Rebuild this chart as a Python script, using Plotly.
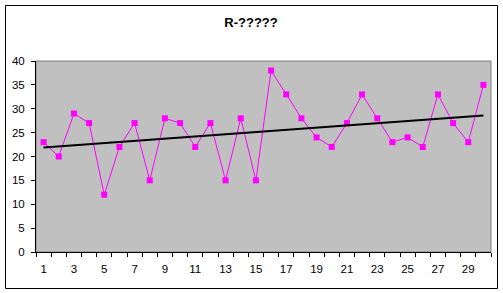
import numpy as np
import plotly.graph_objects as go

categories = list(range(1, 31))
values = [23, 20, 29, 27, 12, 22, 27, 15, 28, 27,
          22, 27, 15, 28, 15, 38, 33, 28, 24, 22,
          27, 33, 28, 23, 24, 22, 33, 27, 23, 35]
x_ticklabels = [str(i) for i in range(1, 31, 2)]
y_ticks = [0, 5, 10, 15, 20, 25, 30, 35, 40]
title_text = "R-?????"

W, H = 503, 293
L, R, T, B = 36, 491, 61, 252

slope, intercept = np.polyfit(categories, values, 1)
trend = [slope * c + intercept for c in categories]

fig = go.Figure()
fig.add_trace(go.Scatter(
    x=categories, y=values, mode="lines+markers",
    line=dict(color="#FF00FF", width=1),
    marker=dict(symbol="square", size=6, color="#FF00FF"),
    showlegend=False, hoverinfo="skip"))
fig.add_trace(go.Scatter(
    x=categories, y=trend, mode="lines",
    line=dict(color="#000000", width=2),
    showlegend=False, hoverinfo="skip"))

pw, ph = R - L, B - T
def px(xp):
    return (xp - L) / pw
def py(yp):
    return (B - yp) / ph

shapes = [
    dict(type="rect", xref="paper", yref="paper",
         x0=px(5.5), x1=px(497.5), y0=py(288.5), y1=py(5.5),
         line=dict(color="#000000", width=1), layer="below"),
    dict(type="rect", xref="paper", yref="paper",
         x0=0, x1=1, y0=0, y1=1,
         line=dict(color="#808080", width=1), layer="below"),
]

font = dict(family="Liberation Sans, Arial, sans-serif", size=11.5, color="#000000")

fig.update_layout(
    width=W, height=H,
    margin=dict(l=L, r=W - R, t=T, b=H - B),
    paper_bgcolor="#FFFFFF", plot_bgcolor="#C0C0C0",
    font=font,
    title=dict(text="<b>" + title_text + "</b>", x=px(251), xref="paper",
               xanchor="center", y=1 - 22 / H, yref="container", yanchor="middle",
               font=dict(family="Liberation Sans, Arial, sans-serif", size=13, color="#000000")),
    shapes=shapes,
    xaxis=dict(range=[0.5, 30.5], showgrid=False, zeroline=False,
               showline=True, linecolor="#000000", linewidth=1,
               tickmode="array", tickvals=list(range(1, 31, 2)), ticktext=x_ticklabels,
               ticks="outside", ticklen=6, tickcolor="rgba(0,0,0,0)",
               minor=dict(tickmode="linear", tick0=0.5, dtick=1, ticks="outside",
                          ticklen=4, tickcolor="#000000", showgrid=False),
               tickfont=font, fixedrange=True),
    yaxis=dict(range=[0, 40], showgrid=False, zeroline=False,
               showline=True, linecolor="#000000", linewidth=1,
               tickmode="array", tickvals=y_ticks,
               ticks="outside", ticklen=4, tickcolor="#000000",
               ticklabelstandoff=4,
               tickfont=font, fixedrange=True),
)

fig.write_html("out.html")
